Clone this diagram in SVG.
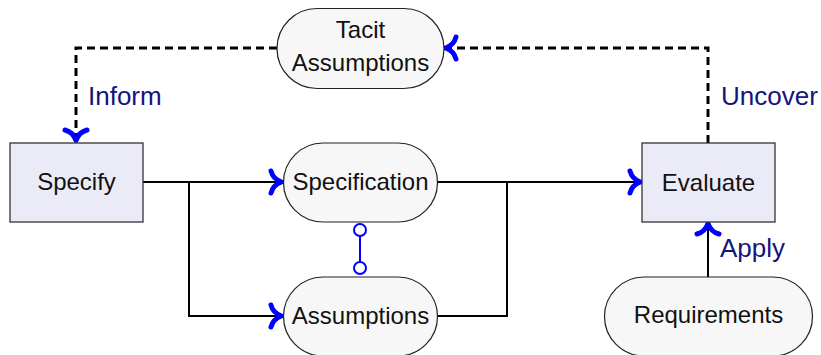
<svg xmlns="http://www.w3.org/2000/svg" width="821" height="355" viewBox="0 0 821 355">
  <style>
    text { font-family: "Liberation Sans", Arial, sans-serif; font-size: 24px; fill: #111; }
    .lbl { fill: #14147a; font-size: 26px; }
    .box { fill: #ebebf7; stroke: #333; stroke-width: 1.3; }
    .pill { fill: #f7f7f7; stroke: #222; stroke-width: 1.2; }
    .flow { fill: none; stroke: #000; stroke-width: 2; }
    .dash { fill: none; stroke: #000; stroke-width: 3; stroke-dasharray: 8 5; }
    .link { fill: none; stroke: #0000ff; stroke-width: 2; }
  </style>
  <defs>
    <marker id="arrow" markerUnits="userSpaceOnUse" viewBox="-16 -16 20 32" refX="0" refY="0" markerWidth="20" markerHeight="32" orient="auto" overflow="visible">
      <path d="M -11,-11 Q -9,-3 -0.5,0 Q -9,3 -11,11" fill="none" stroke="#0000ff" stroke-width="5" stroke-linecap="round" stroke-linejoin="round"/>
    </marker>
  </defs>

  <!-- connectors -->
  <g id="connectors">
    <path class="dash" d="M 277,48 H 76 V 141" marker-end="url(#arrow)"/>
    <path class="dash" d="M 708,143 V 48 H 445" marker-end="url(#arrow)"/>
    <path class="flow" d="M 143,182 H 282" marker-end="url(#arrow)"/>
    <path class="flow" d="M 189,182 V 316 H 282" marker-end="url(#arrow)"/>
    <path class="flow" d="M 437,182 H 641" marker-end="url(#arrow)"/>
    <path class="flow" d="M 437,316 H 507 V 182"/>
    <path class="flow" d="M 708,277 V 223" marker-end="url(#arrow)"/>
    <path class="link" d="M 360,236 V 262"/>
    <circle cx="360" cy="230" r="6" fill="#fff" stroke="#0000ff" stroke-width="2"/>
    <circle cx="360" cy="268" r="6" fill="#fff" stroke="#0000ff" stroke-width="2"/>
    <text class="lbl" x="88" y="105">Inform</text>
    <text class="lbl" x="721" y="105">Uncover</text>
    <text class="lbl" x="720" y="257">Apply</text>
  </g>

  <g id="tacit">
    <rect class="pill" x="277" y="8.5" width="167" height="80" rx="40" ry="40"/>
    <text x="360.5" y="38" text-anchor="middle">Tacit</text>
    <text x="360.5" y="71" text-anchor="middle">Assumptions</text>
  </g>

  <g id="specify">
    <rect class="box" x="10" y="143" width="133" height="79"/>
    <text x="76.5" y="190" text-anchor="middle">Specify</text>
  </g>

  <g id="specification">
    <rect class="pill" x="283.5" y="143" width="154" height="79" rx="39.5" ry="39.5"/>
    <text x="360.5" y="190" text-anchor="middle">Specification</text>
  </g>

  <g id="assumptions">
    <rect class="pill" x="283.5" y="277" width="154" height="79" rx="39.5" ry="39.5"/>
    <text x="360.5" y="324" text-anchor="middle">Assumptions</text>
  </g>

  <g id="evaluate">
    <rect class="box" x="642" y="143" width="133" height="79"/>
    <text x="708.5" y="191" text-anchor="middle">Evaluate</text>
  </g>

  <g id="requirements">
    <rect class="pill" x="604.5" y="277" width="208" height="79" rx="39.5" ry="39.5"/>
    <text x="708.5" y="323" text-anchor="middle">Requirements</text>
  </g>
</svg>
